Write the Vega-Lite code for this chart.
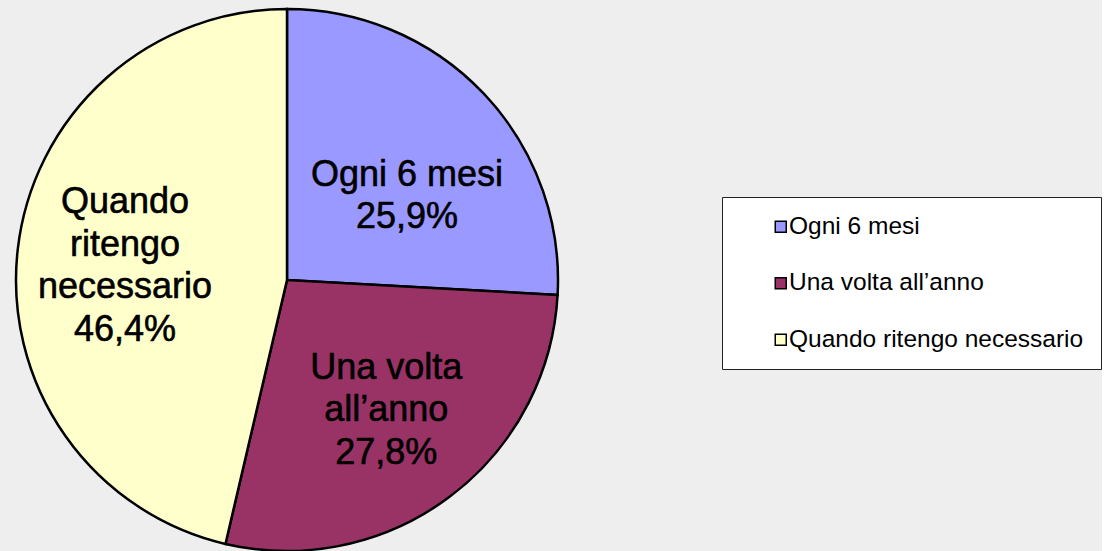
{
  "$schema": "https://vega.github.io/schema/vega-lite/v6.json",
  "width": 574,
  "height": 560,
  "padding": 0,
  "autosize": {"type": "pad"},
  "background": "#EEEEEE",
  "config": {"view": {"stroke": null}},
  "data": {
    "values": [
      {"ord": 1, "cat": "Ogni 6 mesi", "value": 25.9, "label": "Ogni 6 mesi\n25,9%"},
      {"ord": 2, "cat": "Una volta all’anno", "value": 27.8, "label": "Una volta\nall’anno\n27,8%"},
      {"ord": 3, "cat": "Quando ritengo necessario", "value": 46.4, "label": "Quando\nritengo\nnecessario\n46,4%"}
    ]
  },
  "encoding": {
    "theta": {"field": "value", "type": "quantitative", "stack": true},
    "order": {"field": "ord", "type": "quantitative"}
  },
  "layer": [
    {
      "mark": {"type": "arc", "outerRadius": 271, "stroke": "black", "strokeWidth": 2.5},
      "encoding": {
        "color": {
          "field": "cat",
          "type": "nominal",
          "scale": {
            "domain": ["Ogni 6 mesi", "Una volta all’anno", "Quando ritengo necessario"],
            "range": ["#9999FF", "#993366", "#FFFFCC"]
          },
          "legend": {
            "title": null,
            "orient": "none",
            "legendX": 722,
            "legendY": 197,
            "padding": 17.5,
            "fillColor": "white",
            "strokeColor": "#222222",
            "symbolType": "square",
            "symbolSize": 121,
            "symbolStrokeColor": "black",
            "symbolStrokeWidth": 1.5,
            "symbolOffset": 29,
            "labelOffset": -4,
            "labelFont": "Liberation Sans",
            "labelFontSize": 24.5,
            "labelColor": "black",
            "labelLimit": 400,
            "rowPadding": 31.5
          }
        }
      }
    },
    {
      "mark": {"type": "text", "radius": 150, "dx": 11, "dy": -2, "font": "Liberation Sans", "fontSize": 36, "lineBreak": "\n", "lineHeight": 42.5, "align": "center", "baseline": "middle", "color": "black", "stroke": "black", "strokeWidth": 0.6},
      "encoding": {
        "text": {"condition": {"test": "datum.ord == 1", "field": "label"}, "value": ""}
      }
    },
    {
      "mark": {"type": "text", "radius": 162, "dx": 2, "dy": -42, "font": "Liberation Sans", "fontSize": 36, "lineBreak": "\n", "lineHeight": 42.5, "align": "center", "baseline": "middle", "color": "black", "stroke": "black", "strokeWidth": 0.6},
      "encoding": {
        "text": {"condition": {"test": "datum.ord == 2", "field": "label"}, "value": ""}
      }
    },
    {
      "mark": {"type": "text", "radius": 163, "dx": 0, "dy": -59, "font": "Liberation Sans", "fontSize": 36, "lineBreak": "\n", "lineHeight": 42.5, "align": "center", "baseline": "middle", "color": "black", "stroke": "black", "strokeWidth": 0.6},
      "encoding": {
        "text": {"condition": {"test": "datum.ord == 3", "field": "label"}, "value": ""}
      }
    }
  ]
}
